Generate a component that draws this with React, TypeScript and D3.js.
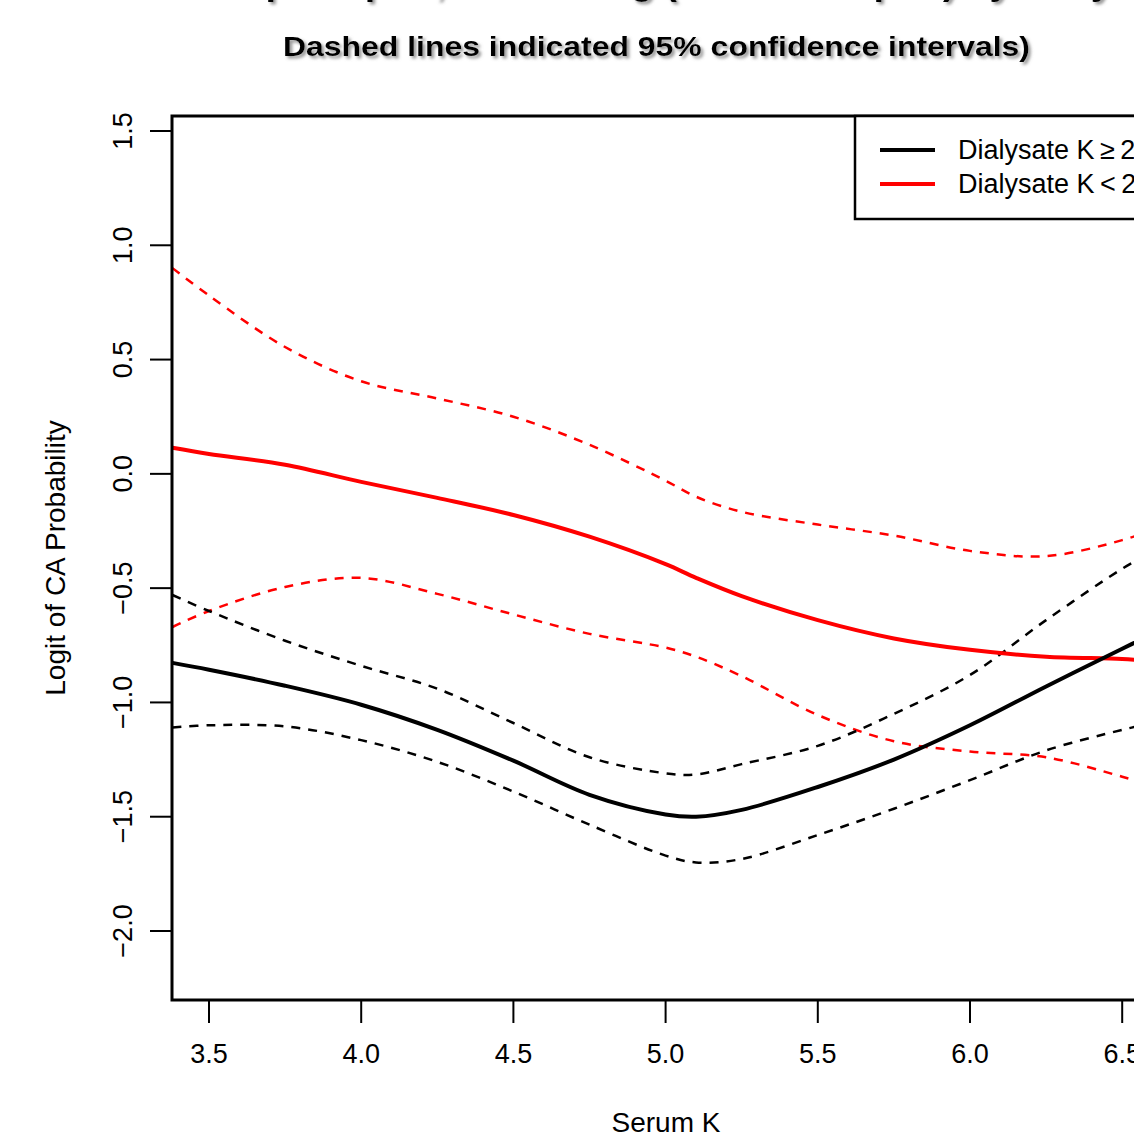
import React from 'react';
import * as d3 from 'd3';

// serum K grid shared by all curves
const serumK = [3.38, 3.5, 3.75, 4.0, 4.25, 4.5, 4.75, 5.0, 5.1, 5.25, 5.5, 5.75, 6.0, 6.25, 6.5, 6.6];

// Dialysate K >= 2 (black)
const highFit = [-0.827, -0.857, -0.927, -1.01, -1.12, -1.255, -1.404, -1.49, -1.5, -1.47, -1.37, -1.25, -1.1, -0.93, -0.765, -0.7];
const highUpper = [-0.53, -0.6, -0.73, -0.84, -0.94, -1.09, -1.24, -1.31, -1.315, -1.27, -1.19, -1.05, -0.88, -0.64, -0.415, -0.34];
const highLower = [-1.11, -1.1, -1.105, -1.165, -1.26, -1.39, -1.535, -1.67, -1.7, -1.685, -1.58, -1.465, -1.34, -1.21, -1.12, -1.09];

// Dialysate K < 2 (red)
const lowFit = [0.114, 0.087, 0.04, -0.035, -0.105, -0.18, -0.275, -0.395, -0.455, -0.535, -0.64, -0.72, -0.77, -0.8, -0.81, -0.82];
const lowUpper = [0.9, 0.78, 0.555, 0.405, 0.33, 0.25, 0.127, -0.03, -0.1, -0.166, -0.222, -0.27, -0.337, -0.36, -0.29, -0.245];
const lowLower = [-0.67, -0.6, -0.495, -0.455, -0.525, -0.615, -0.7, -0.76, -0.8, -0.885, -1.055, -1.17, -1.215, -1.24, -1.325, -1.365];

const xTicks = [3.5, 4.0, 4.5, 5.0, 5.5, 6.0, 6.5];
const yTicks = [1.5, 1.0, 0.5, 0.0, -0.5, -1.0, -1.5, -2.0];
const legendLabels = ['Dialysate K\u2009\u2265\u20092', 'Dialysate K\u2009<\u20092'];
const legendColors = ['#000000', '#ff0000'];

const W = 1134;
const H = 1133;
const plot = { left: 172, top: 116, right: 1200, bottom: 1000 };

const App = () => {
  const x = d3.scaleLinear().domain([3.5, 6.0]).range([209, 970]);
  const y = d3.scaleLinear().domain([1.5, -2.0]).range([131, 931]);

  const line = d3.line<number>()
    .x((_, i) => x(serumK[i]))
    .y(d => y(d))
    .curve(d3.curveCatmullRom.alpha(0.5));

  const series = [
    { values: lowUpper, color: '#ff0000', dashed: true },
    { values: lowLower, color: '#ff0000', dashed: true },
    { values: highUpper, color: '#000000', dashed: true },
    { values: highLower, color: '#000000', dashed: true },
    { values: lowFit, color: '#ff0000', dashed: false },
    { values: highFit, color: '#000000', dashed: false },
  ];

  const font = '"Liberation Sans", Arial, sans-serif';

  return (
    <svg width={W} height={H} style={{ display: 'block', background: '#fff' }} fontFamily={font}>
      <style>{'body{margin:0}'}</style>
      <defs>
        <clipPath id="plotClip">
          <rect x={plot.left} y={plot.top} width={plot.right - plot.left} height={plot.bottom - plot.top} />
        </clipPath>
        <filter id="shadow" x="-5%" y="-30%" width="110%" height="160%">
          <feDropShadow dx="2.5" dy="2.5" stdDeviation="1.5" floodColor="#8a8a8a" floodOpacity="0.9" />
        </filter>
      </defs>

      {/* titles, first line is mostly off the top edge */}
      <g filter="url(#shadow)" fontWeight="bold">
        <text x={656} y={-6} textAnchor="middle" fontSize={38}>
          Cubic Spline plot, Smoothing (Restricted plot) by Dialysate
        </text>
        <text x={283} y={56} fontSize={28} textLength={747} lengthAdjust="spacingAndGlyphs">
          Dashed lines indicated 95% confidence intervals)
        </text>
      </g>

      <g clipPath="url(#plotClip)" fill="none">
        {series.map((s, i) => (
          <path
            key={i}
            d={line(s.values) || ''}
            stroke={s.color}
            strokeWidth={s.dashed ? 2.5 : 4}
            strokeDasharray={s.dashed ? '9,8' : undefined}
          />
        ))}
      </g>

      {/* frame */}
      <rect x={plot.left} y={plot.top} width={plot.right - plot.left} height={plot.bottom - plot.top}
        fill="none" stroke="#000" strokeWidth={3} />

      {/* x axis */}
      <g>
        {xTicks.map(t => (
          <g key={t}>
            <line x1={x(t)} x2={x(t)} y1={plot.bottom} y2={plot.bottom + 23} stroke="#000" strokeWidth={2} />
            <text x={x(t)} y={1063} textAnchor="middle" fontSize={27}>{t.toFixed(1)}</text>
          </g>
        ))}
        <text x={666} y={1132} textAnchor="middle" fontSize={28}>Serum K</text>
      </g>

      {/* y axis */}
      <g>
        {yTicks.map(t => (
          <g key={t}>
            <line x1={plot.left - 22} x2={plot.left} y1={y(t)} y2={y(t)} stroke="#000" strokeWidth={2} />
            <text transform={`translate(132,${y(t)}) rotate(-90)`} textAnchor="middle" fontSize={27}>
              {t === 0 ? '0.0' : t.toFixed(1).replace('-', '\u2212')}
            </text>
          </g>
        ))}
        <text transform="translate(65,558) rotate(-90)" textAnchor="middle" fontSize={28}>
          Logit of CA Probability
        </text>
      </g>

      {/* legend */}
      <g>
        <rect x={855} y={plot.top} width={400} height={103} fill="#fff" stroke="#000" strokeWidth={2.5} />
        {legendLabels.map((lab, i) => (
          <g key={lab}>
            <line x1={880} x2={935} y1={150 + i * 34} y2={150 + i * 34} stroke={legendColors[i]} strokeWidth={4} />
            <text x={958} y={159 + i * 34} fontSize={27}>{lab}</text>
          </g>
        ))}
      </g>
    </svg>
  );
};

export default App;
